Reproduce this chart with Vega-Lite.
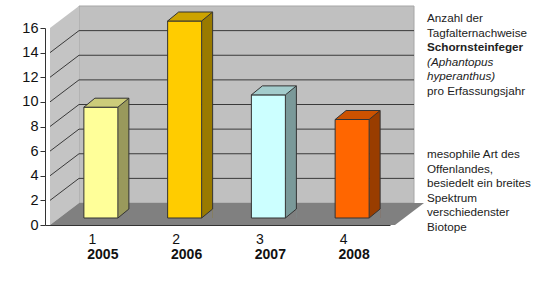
{
  "$schema": "https://vega.github.io/schema/vega-lite/v6.json",
  "width": 345,
  "height": 197,
  "autosize": "none",
  "padding": {"left": 45, "top": 28, "right": 158, "bottom": 67},
  "background": "white",
  "config": {
    "view": {"stroke": null},
    "font": "Liberation Sans",
    "text": {"font": "Liberation Sans"},
    "axis": {"labelOverlap": false, "labelFlush": false}
  },
  "datasets": {
    "counts": [
      {"n": 1, "year": "2005", "v": 9},
      {"n": 2, "year": "2006", "v": 16},
      {"n": 3, "year": "2007", "v": 10},
      {"n": 4, "year": "2008", "v": 8}
    ],
    "grid": [{"v": 2}, {"v": 4}, {"v": 6}, {"v": 8}, {"v": 10}, {"v": 12}, {"v": 14}],
    "noteNormal": [
      {"r": 1, "t": "Anzahl der"},
      {"r": 2, "t": "Tagfalternachweise"},
      {"r": 6, "t": "pro Erfassungsjahr"}
    ],
    "noteBold": [{"r": 3, "t": "Schornsteinfeger"}],
    "noteItalic": [
      {"r": 4, "t": "(Aphantopus"},
      {"r": 5, "t": "hyperanthus)"}
    ],
    "noteB": [
      {"r": 10, "t": "mesophile Art des"},
      {"r": 11, "t": "Offenlandes,"},
      {"r": 12, "t": "besiedelt ein breites"},
      {"r": 13, "t": "Spektrum"},
      {"r": 14, "t": "verschiedenster"},
      {"r": 15, "t": "Biotope"}
    ]
  },
  "resolve": {"scale": {"y": "independent", "color": "independent"}, "axis": {"y": "independent"}},
  "layer": [
    {
      "data": {"values": [{}]},
      "mark": {"type": "rect", "fill": "#C0C0C0", "stroke": "#A6A6A6", "strokeWidth": 1, "xOffset": 29, "x2Offset": 29, "yOffset": -22, "y2Offset": -22},
      "encoding": {
        "x": {"datum": 0.5, "type": "quantitative",
          "scale": {"domain": [0.5, 4.5], "nice": false, "zero": false},
          "axis": {"values": [1, 1.5, 2, 2.5, 3, 3.5, 4, 4.5], "title": null, "grid": false, "format": "d",
            "labelExpr": "datum.value % 1 ? '' : datum.label",
            "tickColor": {"condition": {"test": "datum.value % 1 === 0", "value": "transparent"}, "value": "#333333"},
            "domainColor": "#333333", "tickSize": 5, "labelPadding": 2, "labelFontSize": 14, "labelColor": "#111111",
            "labelFont": "Liberation Sans", "labelAngle": 0, "labelOverlap": false, "labelFlush": false, "zindex": 1}},
        "x2": {"datum": 4.5},
        "y": {"datum": 0, "type": "quantitative",
          "scale": {"domain": [0, 16], "nice": false, "zero": false},
          "axis": {"values": [0, 2, 4, 6, 8, 10, 12, 14, 16], "title": null, "grid": false, "format": "d", "orient": "left",
            "domainColor": "#333333", "tickColor": "#333333", "tickSize": 5, "labelPadding": 2,
            "labelFontSize": 14.5, "labelColor": "#111111", "labelFont": "Liberation Sans",
            "labelFlush": false, "labelOverlap": false, "zindex": 1}},
        "y2": {"datum": 16}
      }
    },
    {
      "data": {"values": [{}]},
      "mark": {"type": "point", "shape": "M0,0 L0,-197 L29,-219 L29,-22 Z", "size": 4, "filled": true, "opacity": 1, "fill": "#C4C4C4", "strokeWidth": 0},
      "encoding": {
        "x": {"datum": 0.5, "type": "quantitative"},
        "y": {"datum": 0, "type": "quantitative", "axis": null, "scale": {"domain": [0, 16], "nice": false, "zero": false}}
      }
    },
    {
      "data": {"values": [{}]},
      "mark": {"type": "point", "shape": "M0,0 L345,0 L374,-22 L29,-22 Z", "size": 4, "filled": true, "opacity": 1, "fill": "#808080", "strokeWidth": 0},
      "encoding": {
        "x": {"datum": 0.5, "type": "quantitative"},
        "y": {"datum": 0, "type": "quantitative", "axis": null, "scale": {"domain": [0, 16], "nice": false, "zero": false}}
      }
    },
    {
      "data": {"name": "grid"},
      "mark": {"type": "rule", "color": "#3a3a3a", "strokeWidth": 1, "xOffset": 29, "x2Offset": 29, "yOffset": -22},
      "encoding": {
        "x": {"datum": 0.5, "type": "quantitative"},
        "x2": {"datum": 4.5},
        "y": {"field": "v", "type": "quantitative", "axis": null, "scale": {"domain": [0, 16], "nice": false, "zero": false}}
      }
    },
    {
      "data": {"name": "grid"},
      "mark": {"type": "rule", "color": "#3a3a3a", "strokeWidth": 1, "x2Offset": 29, "y2Offset": -22},
      "encoding": {
        "x": {"datum": 0.5, "type": "quantitative"},
        "x2": {"datum": 0.5},
        "y": {"field": "v", "type": "quantitative", "axis": null, "scale": {"domain": [0, 16], "nice": false, "zero": false}},
        "y2": {"field": "v"}
      }
    },
    {
      "data": {"name": "counts"},
      "mark": {"type": "bar", "width": 11, "xOffset": 31.5, "yOffset": -16, "y2Offset": -7},
      "encoding": {
        "x": {"field": "n", "type": "quantitative"},
        "y": {"field": "v", "type": "quantitative", "axis": null, "scale": {"domain": [0, 16], "nice": false, "zero": false}},
        "y2": {"datum": 0},
        "color": {"field": "year", "type": "nominal", "legend": null,
          "scale": {"domain": ["2005", "2006", "2007", "2008"], "range": ["#99995C", "#997A00", "#7A9999", "#993D00"]}}
      }
    },
    {
      "data": {"name": "counts"},
      "mark": {"type": "point", "shape": "M26,-7 L37,-16 L37,-7 Z", "size": 4, "filled": true, "opacity": 1, "fill": "#808080", "strokeWidth": 0},
      "encoding": {
        "x": {"field": "n", "type": "quantitative"},
        "y": {"datum": 0, "type": "quantitative", "axis": null, "scale": {"domain": [0, 16], "nice": false, "zero": false}}
      }
    },
    {
      "data": {"name": "counts"},
      "mark": {"type": "rule", "color": "#333333", "strokeWidth": 1, "xOffset": 37, "yOffset": -16, "y2Offset": -16},
      "encoding": {
        "x": {"field": "n", "type": "quantitative"},
        "y": {"field": "v", "type": "quantitative", "axis": null, "scale": {"domain": [0, 16], "nice": false, "zero": false}},
        "y2": {"datum": 0}
      }
    },
    {
      "data": {"name": "counts"},
      "mark": {"type": "rule", "color": "#333333", "strokeWidth": 1, "xOffset": 26, "x2Offset": 37, "yOffset": -7, "y2Offset": -16},
      "encoding": {
        "x": {"field": "n", "type": "quantitative"},
        "x2": {"field": "n"},
        "y": {"datum": 0, "type": "quantitative", "axis": null, "scale": {"domain": [0, 16], "nice": false, "zero": false}},
        "y2": {"datum": 0}
      }
    },
    {
      "data": {"name": "counts"},
      "mark": {"type": "bar", "width": 34, "xOffset": 9, "yOffset": -7, "y2Offset": -7, "stroke": "#333333", "strokeWidth": 1},
      "encoding": {
        "x": {"field": "n", "type": "quantitative"},
        "y": {"field": "v", "type": "quantitative", "axis": null, "scale": {"domain": [0, 16], "nice": false, "zero": false}},
        "y2": {"datum": 0},
        "color": {"field": "year", "type": "nominal", "legend": null,
          "scale": {"domain": ["2005", "2006", "2007", "2008"], "range": ["#FFFF99", "#FFCC00", "#CCFFFF", "#FF6600"]}}
      }
    },
    {
      "data": {"name": "counts"},
      "mark": {"type": "point", "shape": "M-8,-7 L26,-7 L37,-16 L3,-16 Z", "size": 4, "filled": true, "opacity": 1, "stroke": "#333333", "strokeWidth": 1},
      "encoding": {
        "x": {"field": "n", "type": "quantitative"},
        "y": {"field": "v", "type": "quantitative", "axis": null, "scale": {"domain": [0, 16], "nice": false, "zero": false}},
        "color": {"field": "year", "type": "nominal", "legend": null,
          "scale": {"domain": ["2005", "2006", "2007", "2008"], "range": ["#CCCC7A", "#CCA300", "#A3CCCC", "#CC5200"]}}
      }
    },
    {
      "data": {"name": "counts"},
      "mark": {"type": "text", "fontWeight": "bold", "fontSize": 14, "align": "center", "baseline": "alphabetic", "dx": 11, "dy": 34, "color": "#111111"},
      "encoding": {
        "x": {"field": "n", "type": "quantitative"},
        "y": {"datum": 0, "type": "quantitative", "axis": null, "scale": {"domain": [0, 16], "nice": false, "zero": false}},
        "text": {"field": "year"}
      }
    },
    {
      "data": {"name": "noteNormal"},
      "mark": {"type": "text", "fontSize": 11.7, "align": "left", "baseline": "alphabetic", "dx": 42, "color": "#222222"},
      "encoding": {
        "x": {"datum": 4.5, "type": "quantitative"},
        "y": {"field": "r", "type": "quantitative", "axis": null, "scale": {"domain": [1.411, 14.904], "reverse": true, "nice": false, "zero": false}},
        "text": {"field": "t"}
      }
    },
    {
      "data": {"name": "noteBold"},
      "mark": {"type": "text", "fontSize": 11.7, "fontWeight": "bold", "align": "left", "baseline": "alphabetic", "dx": 42, "color": "#222222"},
      "encoding": {
        "x": {"datum": 4.5, "type": "quantitative"},
        "y": {"field": "r", "type": "quantitative", "axis": null, "scale": {"domain": [1.411, 14.904], "reverse": true, "nice": false, "zero": false}},
        "text": {"field": "t"}
      }
    },
    {
      "data": {"name": "noteItalic"},
      "mark": {"type": "text", "fontSize": 11.7, "fontStyle": "italic", "align": "left", "baseline": "alphabetic", "dx": 42, "color": "#222222"},
      "encoding": {
        "x": {"datum": 4.5, "type": "quantitative"},
        "y": {"field": "r", "type": "quantitative", "axis": null, "scale": {"domain": [1.411, 14.904], "reverse": true, "nice": false, "zero": false}},
        "text": {"field": "t"}
      }
    },
    {
      "data": {"name": "noteB"},
      "mark": {"type": "text", "fontSize": 11.7, "align": "left", "baseline": "alphabetic", "dx": 42, "dy": 4.6, "color": "#222222"},
      "encoding": {
        "x": {"datum": 4.5, "type": "quantitative"},
        "y": {"field": "r", "type": "quantitative", "axis": null, "scale": {"domain": [1.411, 14.904], "reverse": true, "nice": false, "zero": false}},
        "text": {"field": "t"}
      }
    }
  ]
}
